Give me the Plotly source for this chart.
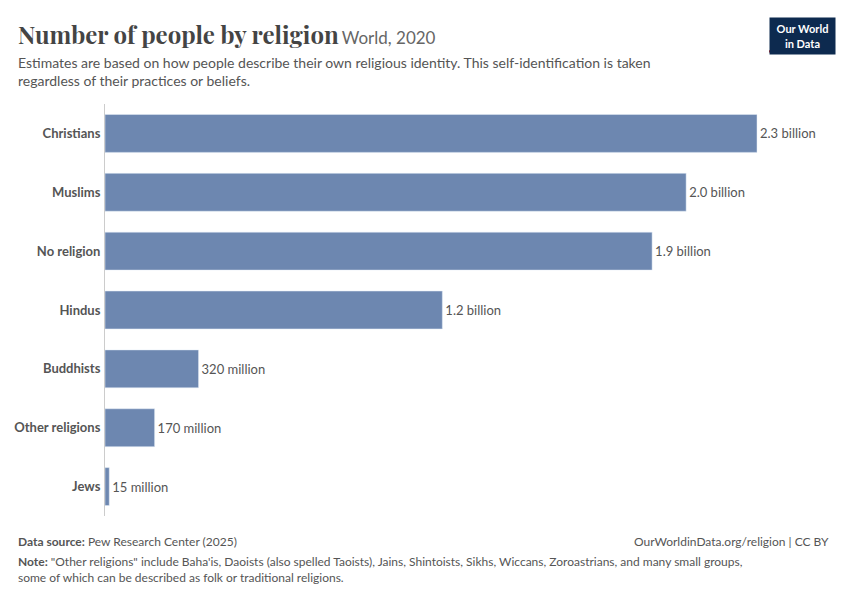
import plotly.graph_objects as go

categories = ["Christians", "Muslims", "No religion", "Hindus", "Buddhists", "Other religions", "Jews"]
values_bn = [2.30, 2.05, 1.93, 1.19, 0.33, 0.175, 0.015]
labels = ["2.3 billion", "2.0 billion", "1.9 billion", "1.2 billion", "320 million", "170 million", "15 million"]

OFF = 8
FW, FH = 850 - OFF, 600 - OFF
L, R, T, B = 105 - OFF, 10, 103.5 - OFF, 600 - 516.5
W, H = FW - L - R, FH - T - B

def px(x):
    return (x - OFF - L) / W

def py(y):
    return 1 - (y - OFF - T) / H

fig = go.Figure(go.Bar(
    x=values_bn, y=categories, orientation="h",
    marker=dict(color="#6d87b0"),
    text=labels, textposition="outside", cliponaxis=False,
    textfont=dict(family="Lato", size=13, color="#555"),
))
fig.update_layout(
    width=FW, height=FH, plot_bgcolor="white", paper_bgcolor="white",
    margin=dict(l=L, r=R, t=T, b=B),
    bargap=0.356, showlegend=False, font=dict(family="Lato"),
    xaxis=dict(range=[0, 2.3 * W / 652], visible=False),
    yaxis=dict(autorange="reversed", showline=True, linecolor="#ccc", linewidth=1,
               ticks="", ticklabelstandoff=1, automargin=False,
               tickfont=dict(family="Lato", size=13, color="#555", weight="bold")),
)
ann = [
    dict(x=16, y=15, text="<span style='font-family:Playfair Display, DejaVu Serif, serif;font-size:24px;color:#444'><b>Number of people by religion</b></span> <span style='font-size:17px;color:#666'>World, 2020</span>", font=dict(family="Lato")),
    dict(x=16, y=51, text="Estimates are based on how people describe their own religious identity. This self-identification is taken<br>regardless of their practices or beliefs.", font=dict(family="Lato", size=14, color="#555")),
    dict(x=16, y=533, text="<b>Data source:</b> Pew Research Center (2025)", font=dict(family="Lato", size=12, color="#555")),
    dict(x=16, y=553, text="<b>Note:</b> \"Other religions\" include Baha'is, Daoists (also spelled Taoists), Jains, Shintoists, Sikhs, Wiccans, Zoroastrians, and many small groups,<br>some of which can be described as folk or traditional religions.", font=dict(family="Lato", size=12, color="#555")),
]
for a in ann:
    fig.add_annotation(xref="paper", yref="paper", x=px(a["x"]), y=py(a["y"]), xanchor="left", yanchor="top",
                       text=a["text"], showarrow=False, align="left", font=a["font"])
fig.add_annotation(xref="paper", yref="paper", x=px(831), y=py(533), xanchor="right", yanchor="top",
                   text="OurWorldinData.org/religion | CC BY", showarrow=False, font=dict(family="Lato", size=12, color="#555"))
fig.add_annotation(xref="paper", yref="paper", x=px(769), y=py(16), xanchor="left", yanchor="top",
                   text="<b>Our World<br>in Data</b>", showarrow=False, align="center",
                   width=57, height=28, bgcolor="#0d2a4f", borderpad=4,
                   font=dict(family="Lato", size=11, color="white"))
fig.add_shape(type="rect", xref="paper", yref="paper", x0=px(769), x1=px(834), y0=py(52), y1=py(49.5),
              fillcolor="#c2282d", line_width=0, layer="above")
fig.write_html("out.html")
